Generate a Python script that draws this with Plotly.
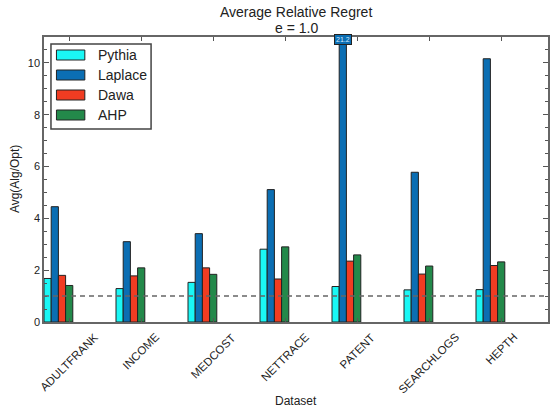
import plotly.graph_objects as go

# Datasets and per-algorithm average relative regret (epsilon = 1.0)
datasets = ["ADULTFRANK", "INCOME", "MEDCOST", "NETTRACE", "PATENT", "SEARCHLOGS", "HEPTH"]
pythia = [1.68, 1.29, 1.53, 2.81, 1.37, 1.24, 1.25]
laplace = [4.45, 3.10, 3.41, 5.11, 21.2, 5.78, 10.16]
dawa = [1.80, 1.78, 2.09, 1.66, 2.35, 1.85, 2.18]
ahp = [1.41, 2.09, 1.84, 2.90, 2.59, 2.16, 2.32]

series_names = ["Pythia", "Laplace", "Dawa", "AHP"]
series_values = [pythia, laplace, dawa, ahp]
series_colors = ["#1af7f5", "#0b6eb3", "#f03c22", "#23894a"]

BAR_W = 0.1
Y_MAX = 11
FONT = "Liberation Sans, Arial, Helvetica, sans-serif"

W, H = 551, 412
ML, MR, MT, MB = 44, 1, 37, 90
PW, PH = W - ML - MR, H - MT - MB


def px_x(p):
    return (p - ML) / PW


def px_y(p):
    return (H - MB - p) / PH


fig = go.Figure()
for k, (name, vals, col) in enumerate(zip(series_names, series_values, series_colors)):
    fig.add_trace(go.Bar(
        x=[i + (k + 0.5) * BAR_W for i in range(len(datasets))],
        y=vals,
        width=BAR_W,
        name=name,
        marker=dict(color=col, line=dict(color="#222222", width=1)),
        showlegend=False,
    ))

shapes = [
    # reference line at ratio 1
    dict(type="line", xref="x domain", yref="y", x0=0, x1=1, y0=1, y1=1,
         line=dict(color="#666666", width=1.5, dash="5px,4px"), layer="above"),
    # legend frame
    dict(type="rect", xref="paper", yref="paper",
         x0=px_x(51), x1=px_x(151.5), y0=px_y(129), y1=px_y(44),
         fillcolor="white", line=dict(color="#444444", width=1.5), layer="above"),
]

annotations = []
for j, (name, col) in enumerate(zip(series_names, series_colors)):
    cy = 55 + 20 * j
    shapes.append(dict(type="rect", xref="paper", yref="paper",
                       x0=px_x(56.5), x1=px_x(85), y0=px_y(cy + 5), y1=px_y(cy - 5),
                       fillcolor=col, line=dict(color="#222222", width=1), layer="above"))
    annotations.append(dict(xref="paper", yref="paper", x=px_x(96), y=px_y(cy),
                            xanchor="left", yanchor="middle", text=name, showarrow=False,
                            font=dict(family=FONT, size=14, color="#222222")))

# rotated category labels centred on each tick
tick_pos = [i + 3.5 * BAR_W for i in range(len(datasets))]
for xp, lab in zip(tick_pos, datasets):
    annotations.append(dict(xref="x", yref="paper", x=xp, y=px_y(328),
                            xanchor="center", yanchor="top", text=lab, textangle=-45,
                            showarrow=False, font=dict(family=FONT, size=11.5, color="#222222")))

# value tag for the clipped bar
for i, v in enumerate(laplace):
    if v > Y_MAX:
        annotations.append(dict(xref="x", yref="y", x=i + 1.5 * BAR_W, y=Y_MAX, yshift=-2,
                                xanchor="center", yanchor="middle", text=f"{v:.1f}",
                                showarrow=False, bgcolor="#0b6eb3", bordercolor="#222222",
                                borderwidth=1, borderpad=1,
                                font=dict(family=FONT, size=7, color="#d8ecff")))

# chart title (two lines)
for text, cy in (("Average Relative Regret", 12), ("e = 1.0", 28)):
    annotations.append(dict(xref="paper", yref="paper", x=px_x(297.5), y=px_y(cy),
                            xanchor="center", yanchor="middle", text=text, showarrow=False,
                            font=dict(family=FONT, size=14, color="#222222")))

annotations.append(dict(xref="paper", yref="paper", x=0.5, y=px_y(401),
                        xanchor="center", yanchor="middle", text="Dataset", showarrow=False,
                        font=dict(family=FONT, size=12, color="#222222")))
annotations.append(dict(xref="paper", yref="paper", x=px_x(15), y=px_y(179),
                        xanchor="center", yanchor="middle", text="Avg(Alg/Opt)", textangle=-90,
                        showarrow=False, font=dict(family=FONT, size=12, color="#222222")))

fig.update_layout(
    width=W, height=H,
    margin=dict(l=ML, r=MR, t=MT, b=MB),
    paper_bgcolor="white", plot_bgcolor="white",
    barmode="overlay",
    font=dict(family=FONT, size=11, color="#222222"),
    shapes=shapes,
    annotations=annotations,
    xaxis=dict(range=[0, 7], tickvals=tick_pos, showticklabels=False, ticks="inside",
               ticklen=4, tickcolor="#555555", showline=True, linecolor="#666666",
               linewidth=1.5, mirror="ticks", showgrid=False, zeroline=False),
    yaxis=dict(range=[0, Y_MAX], dtick=2, tick0=0, ticks="inside", ticklen=5,
               tickcolor="#555555", showline=True, linecolor="#666666", linewidth=1.5,
               mirror="ticks", showgrid=False, zeroline=False,
               tickfont=dict(family=FONT, size=11, color="#222222"),
               minor=dict(dtick=0.5, ticks="inside", ticklen=3, tickcolor="#555555",
                          showgrid=False)),
)

fig.write_html("out.html")
